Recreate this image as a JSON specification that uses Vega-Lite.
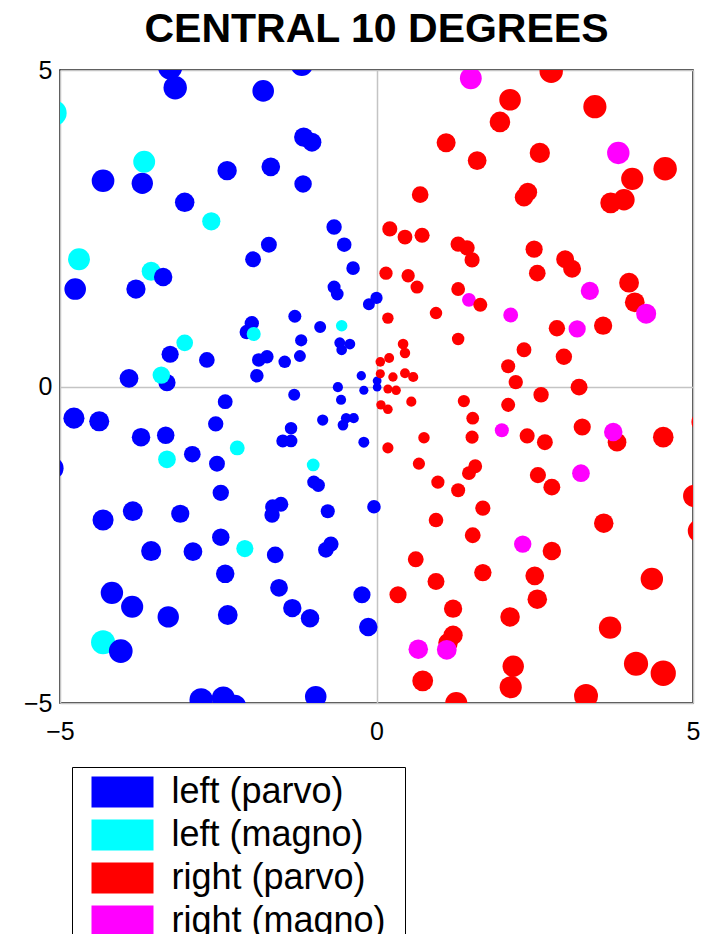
{
  "$schema": "https://vega.github.io/schema/vega-lite/v6.json",
  "autosize": {"type": "none"},
  "padding": {"left": 60, "top": 70, "right": 13, "bottom": 231},
  "width": 633,
  "height": 633,
  "background": "white",
  "title": {"text": "CENTRAL 10 DEGREES", "fontSize": 41, "fontWeight": "bold", "font": "Liberation Sans", "color": "black", "anchor": "middle", "frame": "group", "offset": 7},
  "config": {
    "view": {"stroke": "black", "strokeWidth": 1.5},
    "axis": {"labelFont": "Liberation Sans", "labelColor": "black", "labelFontSize": 25, "domain": false, "ticks": false, "grid": true, "gridColor": "#c4c4c4", "gridWidth": 1.5, "title": null}
  },
  "datasets": {
    "pts": [
      {"x": -3.26, "y": 5.04, "type": "left (parvo)"},
      {"x": -3.18, "y": 4.72, "type": "left (parvo)"},
      {"x": -1.79, "y": 4.67, "type": "left (parvo)"},
      {"x": -1.18, "y": 5.08, "type": "left (parvo)"},
      {"x": -4.32, "y": 3.25, "type": "left (parvo)"},
      {"x": -3.70, "y": 3.21, "type": "left (parvo)"},
      {"x": -2.36, "y": 3.41, "type": "left (parvo)"},
      {"x": -1.67, "y": 3.47, "type": "left (parvo)"},
      {"x": -3.03, "y": 2.91, "type": "left (parvo)"},
      {"x": -1.15, "y": 3.94, "type": "left (parvo)"},
      {"x": -1.02, "y": 3.86, "type": "left (parvo)"},
      {"x": -1.95, "y": 2.01, "type": "left (parvo)"},
      {"x": -1.70, "y": 2.24, "type": "left (parvo)"},
      {"x": -1.16, "y": 3.20, "type": "left (parvo)"},
      {"x": -0.67, "y": 2.52, "type": "left (parvo)"},
      {"x": -0.51, "y": 2.24, "type": "left (parvo)"},
      {"x": -0.37, "y": 1.87, "type": "left (parvo)"},
      {"x": -4.76, "y": 1.54, "type": "left (parvo)"},
      {"x": -3.80, "y": 1.54, "type": "left (parvo)"},
      {"x": -0.67, "y": 1.57, "type": "left (parvo)"},
      {"x": -0.62, "y": 1.46, "type": "left (parvo)"},
      {"x": 0.00, "y": 1.40, "type": "left (parvo)"},
      {"x": -0.12, "y": 1.30, "type": "left (parvo)"},
      {"x": -1.29, "y": 1.11, "type": "left (parvo)"},
      {"x": -0.89, "y": 0.94, "type": "left (parvo)"},
      {"x": -1.19, "y": 0.73, "type": "left (parvo)"},
      {"x": -0.58, "y": 0.69, "type": "left (parvo)"},
      {"x": -0.42, "y": 0.67, "type": "left (parvo)"},
      {"x": -0.55, "y": 0.58, "type": "left (parvo)"},
      {"x": -1.97, "y": 1.00, "type": "left (parvo)"},
      {"x": -2.05, "y": 0.86, "type": "left (parvo)"},
      {"x": -3.26, "y": 0.51, "type": "left (parvo)"},
      {"x": -2.68, "y": 0.42, "type": "left (parvo)"},
      {"x": -1.86, "y": 0.42, "type": "left (parvo)"},
      {"x": -1.73, "y": 0.47, "type": "left (parvo)"},
      {"x": -1.45, "y": 0.39, "type": "left (parvo)"},
      {"x": -1.21, "y": 0.48, "type": "left (parvo)"},
      {"x": -1.89, "y": 0.17, "type": "left (parvo)"},
      {"x": -3.91, "y": 0.13, "type": "left (parvo)"},
      {"x": -3.31, "y": 0.06, "type": "left (parvo)"},
      {"x": -0.24, "y": 0.17, "type": "left (parvo)"},
      {"x": 0.01, "y": 0.09, "type": "left (parvo)"},
      {"x": 0.01, "y": -0.01, "type": "left (parvo)"},
      {"x": -0.20, "y": -0.06, "type": "left (parvo)"},
      {"x": -0.61, "y": -0.01, "type": "left (parvo)"},
      {"x": -1.30, "y": -0.13, "type": "left (parvo)"},
      {"x": -0.56, "y": -0.21, "type": "left (parvo)"},
      {"x": -2.39, "y": -0.24, "type": "left (parvo)"},
      {"x": -4.78, "y": -0.50, "type": "left (parvo)"},
      {"x": -4.38, "y": -0.55, "type": "left (parvo)"},
      {"x": -2.54, "y": -0.59, "type": "left (parvo)"},
      {"x": -3.72, "y": -0.80, "type": "left (parvo)"},
      {"x": -3.33, "y": -0.77, "type": "left (parvo)"},
      {"x": -2.91, "y": -1.07, "type": "left (parvo)"},
      {"x": -2.52, "y": -1.22, "type": "left (parvo)"},
      {"x": -5.12, "y": -1.29, "type": "left (parvo)"},
      {"x": -2.46, "y": -1.68, "type": "left (parvo)"},
      {"x": -0.85, "y": -0.53, "type": "left (parvo)"},
      {"x": -0.48, "y": -0.50, "type": "left (parvo)"},
      {"x": -0.36, "y": -0.50, "type": "left (parvo)"},
      {"x": -0.53, "y": -0.61, "type": "left (parvo)"},
      {"x": -1.35, "y": -0.66, "type": "left (parvo)"},
      {"x": -1.48, "y": -0.86, "type": "left (parvo)"},
      {"x": -1.35, "y": -0.86, "type": "left (parvo)"},
      {"x": -0.20, "y": -0.88, "type": "left (parvo)"},
      {"x": -0.99, "y": -1.51, "type": "left (parvo)"},
      {"x": -0.92, "y": -1.56, "type": "left (parvo)"},
      {"x": -4.32, "y": -2.11, "type": "left (parvo)"},
      {"x": -3.85, "y": -1.97, "type": "left (parvo)"},
      {"x": -3.10, "y": -2.01, "type": "left (parvo)"},
      {"x": -3.56, "y": -2.60, "type": "left (parvo)"},
      {"x": -2.90, "y": -2.61, "type": "left (parvo)"},
      {"x": -2.46, "y": -2.38, "type": "left (parvo)"},
      {"x": -1.60, "y": -2.66, "type": "left (parvo)"},
      {"x": -2.39, "y": -2.96, "type": "left (parvo)"},
      {"x": -4.18, "y": -3.26, "type": "left (parvo)"},
      {"x": -3.86, "y": -3.48, "type": "left (parvo)"},
      {"x": -3.29, "y": -3.64, "type": "left (parvo)"},
      {"x": -2.35, "y": -3.61, "type": "left (parvo)"},
      {"x": -2.77, "y": -4.95, "type": "left (parvo)"},
      {"x": -2.42, "y": -4.92, "type": "left (parvo)"},
      {"x": -2.24, "y": -5.05, "type": "left (parvo)"},
      {"x": -1.64, "y": -1.90, "type": "left (parvo)"},
      {"x": -1.51, "y": -1.86, "type": "left (parvo)"},
      {"x": -1.65, "y": -2.03, "type": "left (parvo)"},
      {"x": -0.77, "y": -1.97, "type": "left (parvo)"},
      {"x": -0.04, "y": -1.90, "type": "left (parvo)"},
      {"x": -0.72, "y": -2.49, "type": "left (parvo)"},
      {"x": -0.80, "y": -2.58, "type": "left (parvo)"},
      {"x": -1.54, "y": -3.18, "type": "left (parvo)"},
      {"x": -1.33, "y": -3.50, "type": "left (parvo)"},
      {"x": -1.05, "y": -3.66, "type": "left (parvo)"},
      {"x": -0.23, "y": -3.29, "type": "left (parvo)"},
      {"x": -0.13, "y": -3.80, "type": "left (parvo)"},
      {"x": -0.96, "y": -4.90, "type": "left (parvo)"},
      {"x": 2.76, "y": 4.98, "type": "right (parvo)"},
      {"x": 2.11, "y": 4.53, "type": "right (parvo)"},
      {"x": 3.45, "y": 4.42, "type": "right (parvo)"},
      {"x": 1.95, "y": 4.18, "type": "right (parvo)"},
      {"x": 1.10, "y": 3.85, "type": "right (parvo)"},
      {"x": 1.59, "y": 3.57, "type": "right (parvo)"},
      {"x": 2.58, "y": 3.69, "type": "right (parvo)"},
      {"x": 4.56, "y": 3.44, "type": "right (parvo)"},
      {"x": 4.04, "y": 3.28, "type": "right (parvo)"},
      {"x": 3.70, "y": 2.90, "type": "right (parvo)"},
      {"x": 3.91, "y": 2.95, "type": "right (parvo)"},
      {"x": 2.39, "y": 3.07, "type": "right (parvo)"},
      {"x": 2.33, "y": 2.99, "type": "right (parvo)"},
      {"x": 0.69, "y": 3.03, "type": "right (parvo)"},
      {"x": 0.21, "y": 2.49, "type": "right (parvo)"},
      {"x": 0.45, "y": 2.36, "type": "right (parvo)"},
      {"x": 0.72, "y": 2.39, "type": "right (parvo)"},
      {"x": 1.29, "y": 2.25, "type": "right (parvo)"},
      {"x": 1.43, "y": 2.19, "type": "right (parvo)"},
      {"x": 1.51, "y": 2.00, "type": "right (parvo)"},
      {"x": 0.15, "y": 1.79, "type": "right (parvo)"},
      {"x": 0.50, "y": 1.75, "type": "right (parvo)"},
      {"x": 2.49, "y": 2.17, "type": "right (parvo)"},
      {"x": 2.98, "y": 2.01, "type": "right (parvo)"},
      {"x": 3.09, "y": 1.86, "type": "right (parvo)"},
      {"x": 2.54, "y": 1.79, "type": "right (parvo)"},
      {"x": 3.99, "y": 1.64, "type": "right (parvo)"},
      {"x": 0.64, "y": 1.57, "type": "right (parvo)"},
      {"x": 1.29, "y": 1.54, "type": "right (parvo)"},
      {"x": 4.08, "y": 1.33, "type": "right (parvo)"},
      {"x": 2.85, "y": 0.92, "type": "right (parvo)"},
      {"x": 3.58, "y": 0.96, "type": "right (parvo)"},
      {"x": 2.33, "y": 0.58, "type": "right (parvo)"},
      {"x": 2.96, "y": 0.47, "type": "right (parvo)"},
      {"x": 2.08, "y": 0.32, "type": "right (parvo)"},
      {"x": 2.20, "y": 0.07, "type": "right (parvo)"},
      {"x": 0.94, "y": 1.16, "type": "right (parvo)"},
      {"x": 0.18, "y": 1.08, "type": "right (parvo)"},
      {"x": 1.29, "y": 0.75, "type": "right (parvo)"},
      {"x": 0.42, "y": 0.67, "type": "right (parvo)"},
      {"x": 0.45, "y": 0.53, "type": "right (parvo)"},
      {"x": 0.20, "y": 0.45, "type": "right (parvo)"},
      {"x": 0.06, "y": 0.39, "type": "right (parvo)"},
      {"x": 0.06, "y": 0.20, "type": "right (parvo)"},
      {"x": 0.26, "y": 0.15, "type": "right (parvo)"},
      {"x": 0.45, "y": 0.21, "type": "right (parvo)"},
      {"x": 0.58, "y": 0.15, "type": "right (parvo)"},
      {"x": 3.20, "y": -0.01, "type": "right (parvo)"},
      {"x": 0.18, "y": -0.04, "type": "right (parvo)"},
      {"x": 0.31, "y": -0.06, "type": "right (parvo)"},
      {"x": 0.07, "y": -0.29, "type": "right (parvo)"},
      {"x": 0.18, "y": -0.36, "type": "right (parvo)"},
      {"x": 0.55, "y": -0.24, "type": "right (parvo)"},
      {"x": 1.38, "y": -0.23, "type": "right (parvo)"},
      {"x": 1.52, "y": -0.50, "type": "right (parvo)"},
      {"x": 2.60, "y": -0.13, "type": "right (parvo)"},
      {"x": 2.08, "y": -0.29, "type": "right (parvo)"},
      {"x": 3.25, "y": -0.64, "type": "right (parvo)"},
      {"x": 3.80, "y": -0.88, "type": "right (parvo)"},
      {"x": 2.38, "y": -0.78, "type": "right (parvo)"},
      {"x": 2.66, "y": -0.88, "type": "right (parvo)"},
      {"x": 4.53, "y": -0.80, "type": "right (parvo)"},
      {"x": 5.15, "y": -0.56, "type": "right (parvo)"},
      {"x": 1.51, "y": -0.80, "type": "right (parvo)"},
      {"x": 0.75, "y": -0.81, "type": "right (parvo)"},
      {"x": 0.18, "y": -0.97, "type": "right (parvo)"},
      {"x": 0.67, "y": -1.22, "type": "right (parvo)"},
      {"x": 1.56, "y": -1.26, "type": "right (parvo)"},
      {"x": 1.46, "y": -1.37, "type": "right (parvo)"},
      {"x": 0.97, "y": -1.51, "type": "right (parvo)"},
      {"x": 1.29, "y": -1.64, "type": "right (parvo)"},
      {"x": 2.55, "y": -1.40, "type": "right (parvo)"},
      {"x": 2.77, "y": -1.59, "type": "right (parvo)"},
      {"x": 5.02, "y": -1.73, "type": "right (parvo)"},
      {"x": 5.10, "y": -2.28, "type": "right (parvo)"},
      {"x": 0.94, "y": -2.11, "type": "right (parvo)"},
      {"x": 1.52, "y": -2.35, "type": "right (parvo)"},
      {"x": 1.68, "y": -1.92, "type": "right (parvo)"},
      {"x": 0.62, "y": -2.73, "type": "right (parvo)"},
      {"x": 1.68, "y": -2.94, "type": "right (parvo)"},
      {"x": 0.94, "y": -3.08, "type": "right (parvo)"},
      {"x": 0.34, "y": -3.29, "type": "right (parvo)"},
      {"x": 1.21, "y": -3.51, "type": "right (parvo)"},
      {"x": 1.21, "y": -3.93, "type": "right (parvo)"},
      {"x": 1.13, "y": -4.05, "type": "right (parvo)"},
      {"x": 0.73, "y": -4.65, "type": "right (parvo)"},
      {"x": 1.26, "y": -5.00, "type": "right (parvo)"},
      {"x": 3.59, "y": -2.16, "type": "right (parvo)"},
      {"x": 2.77, "y": -2.60, "type": "right (parvo)"},
      {"x": 2.50, "y": -2.99, "type": "right (parvo)"},
      {"x": 4.35, "y": -3.04, "type": "right (parvo)"},
      {"x": 2.54, "y": -3.36, "type": "right (parvo)"},
      {"x": 2.11, "y": -3.64, "type": "right (parvo)"},
      {"x": 3.69, "y": -3.81, "type": "right (parvo)"},
      {"x": 2.16, "y": -4.42, "type": "right (parvo)"},
      {"x": 4.10, "y": -4.38, "type": "right (parvo)"},
      {"x": 4.53, "y": -4.53, "type": "right (parvo)"},
      {"x": 2.12, "y": -4.75, "type": "right (parvo)"},
      {"x": 3.31, "y": -4.89, "type": "right (parvo)"},
      {"x": -5.10, "y": 4.32, "type": "left (magno)"},
      {"x": -3.67, "y": 3.55, "type": "left (magno)"},
      {"x": -2.61, "y": 2.61, "type": "left (magno)"},
      {"x": -4.70, "y": 2.01, "type": "left (magno)"},
      {"x": -3.56, "y": 1.82, "type": "left (magno)"},
      {"x": -1.94, "y": 0.83, "type": "left (magno)"},
      {"x": -3.03, "y": 0.69, "type": "left (magno)"},
      {"x": -3.40, "y": 0.18, "type": "left (magno)"},
      {"x": -0.55, "y": 0.96, "type": "left (magno)"},
      {"x": -2.20, "y": -0.97, "type": "left (magno)"},
      {"x": -3.31, "y": -1.15, "type": "left (magno)"},
      {"x": -1.00, "y": -1.24, "type": "left (magno)"},
      {"x": -2.08, "y": -2.56, "type": "left (magno)"},
      {"x": -4.32, "y": -4.04, "type": "left (magno)"},
      {"x": 1.49, "y": 4.87, "type": "right (magno)"},
      {"x": 3.82, "y": 3.69, "type": "right (magno)"},
      {"x": 1.46, "y": 1.37, "type": "right (magno)"},
      {"x": 3.37, "y": 1.51, "type": "right (magno)"},
      {"x": 4.26, "y": 1.15, "type": "right (magno)"},
      {"x": 2.12, "y": 1.13, "type": "right (magno)"},
      {"x": 3.17, "y": 0.91, "type": "right (magno)"},
      {"x": 1.98, "y": -0.69, "type": "right (magno)"},
      {"x": 3.74, "y": -0.72, "type": "right (magno)"},
      {"x": 3.23, "y": -1.37, "type": "right (magno)"},
      {"x": 2.31, "y": -2.49, "type": "right (magno)"},
      {"x": 0.66, "y": -4.15, "type": "right (magno)"},
      {"x": 1.11, "y": -4.16, "type": "right (magno)"},
      {"x": -3.37, "y": 1.73, "type": "left (parvo)"},
      {"x": -4.04, "y": -4.18, "type": "left (parvo)"},
      {"x": 1.64, "y": 1.29, "type": "right (parvo)"}
    ]
  },
  "data": {"name": "pts"},
  "transform": [
    {"calculate": "8.6 + 2.6 * sqrt(datum.x * datum.x + datum.y * datum.y)", "as": "d"},
    {"calculate": "datum.d * datum.d", "as": "msize"}
  ],
  "mark": {"type": "point", "shape": "circle", "filled": true, "opacity": 1, "clip": true, "strokeWidth": 0},
  "encoding": {
    "x": {"field": "x", "type": "quantitative", "scale": {"domain": [-5, 5], "nice": false, "zero": false}, "axis": {"orient": "bottom", "values": [-5, 0, 5], "format": "d", "labelPadding": 16, "labelFlush": false}},
    "y": {"field": "y", "type": "quantitative", "scale": {"domain": [-5, 5], "nice": false, "zero": false}, "axis": {"orient": "left", "values": [-5, 0, 5], "format": "d", "labelPadding": 8, "labelFlush": false}},
    "color": {
      "field": "type", "type": "nominal",
      "scale": {"domain": ["left (parvo)", "left (magno)", "right (parvo)", "right (magno)"], "range": ["#0000ff", "#00ffff", "#ff0000", "#ff00ff"]},
      "legend": {"orient": "none", "legendX": 12, "legendY": 697, "title": " ", "titleOrient": "right", "titlePadding": 12, "titleFontSize": 10, "symbolType": "M-2,-1H2V1H-2Z", "symbolSize": 961, "symbolStrokeWidth": 0, "symbolOpacity": 1, "symbolOffset": 25.5, "labelFont": "Liberation Sans", "labelFontSize": 36, "labelColor": "black", "labelOffset": 31, "padding": 7, "rowPadding": 7, "strokeColor": "black", "fillColor": "white", "labelLimit": 400}
    },
    "size": {"field": "msize", "type": "quantitative", "scale": null, "legend": null}
  }
}
